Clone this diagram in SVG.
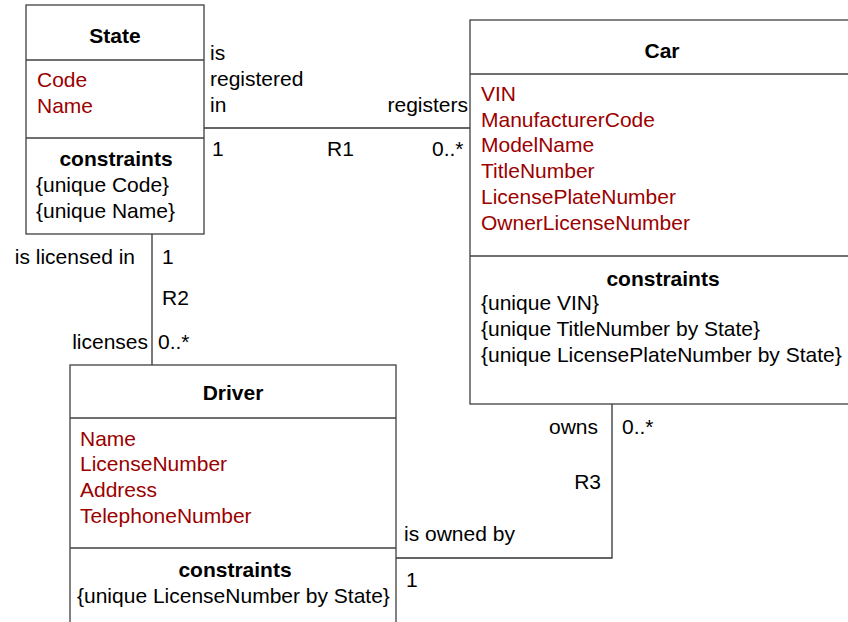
<svg xmlns="http://www.w3.org/2000/svg" width="848" height="622" viewBox="0 0 848 622">
<style>
text{font-family:"Liberation Sans",Arial,Helvetica,sans-serif;font-size:21px;fill:#000}
.t{font-weight:bold;text-anchor:middle}
.a{fill:#9b0000}
.r{text-anchor:end}
.box{fill:#fff;stroke:#404040;stroke-width:1.3}
.div{stroke:#404040;stroke-width:1.3}
.conn{fill:none;stroke:#333;stroke-width:1.3}
</style>
<rect width="848" height="622" fill="#fff"/>
<g id="connectors">
<path class="conn" d="M204,128 H470"/>
<path class="conn" d="M152,234 V365"/>
<path class="conn" d="M612,404 V558 H396"/>
</g>
<g id="labels">
<text x="210" y="60">is</text>
<text x="210" y="86">registered</text>
<text x="210" y="112">in</text>
<text class="r" x="468" y="112">registers</text>
<text x="212" y="156">1</text>
<text x="327" y="156">R1</text>
<text x="432" y="156">0..*</text>
<text class="r" x="135" y="264">is licensed in</text>
<text x="162" y="264">1</text>
<text x="162" y="305">R2</text>
<text class="r" x="148" y="349">licenses</text>
<text x="158" y="349">0..*</text>
<text class="r" x="598" y="434">owns</text>
<text x="622" y="434">0..*</text>
<text class="r" x="601" y="489">R3</text>
<text x="404" y="541">is owned by</text>
<text x="406" y="587">1</text>
</g>
<g id="State">
<rect class="box" x="26" y="5" width="178" height="229"/>
<line class="div" x1="26" y1="60" x2="204" y2="60"/>
<line class="div" x1="26" y1="138" x2="204" y2="138"/>
<text class="t" x="115" y="43">State</text>
<text class="a" x="37" y="87">Code</text>
<text class="a" x="37" y="113">Name</text>
<text class="t" x="116" y="166">constraints</text>
<text x="36" y="192">{unique Code}</text>
<text x="36" y="218">{unique Name}</text>
</g>
<g id="Car">
<rect class="box" x="470" y="20" width="384" height="384"/>
<line class="div" x1="470" y1="74" x2="854" y2="74"/>
<line class="div" x1="470" y1="256" x2="854" y2="256"/>
<text class="t" x="662" y="58">Car</text>
<text class="a" x="481" y="101">VIN</text>
<text class="a" x="481" y="127">ManufacturerCode</text>
<text class="a" x="481" y="152">ModelName</text>
<text class="a" x="481" y="178">TitleNumber</text>
<text class="a" x="481" y="204">LicensePlateNumber</text>
<text class="a" x="481" y="230">OwnerLicenseNumber</text>
<text class="t" x="663" y="286">constraints</text>
<text x="481" y="310">{unique VIN}</text>
<text x="481" y="336">{unique TitleNumber by State}</text>
<text x="481" y="362">{unique LicensePlateNumber by State}</text>
</g>
<g id="Driver">
<rect class="box" x="70" y="365" width="326" height="270"/>
<line class="div" x1="70" y1="418" x2="396" y2="418"/>
<line class="div" x1="70" y1="548" x2="396" y2="548"/>
<text class="t" x="233" y="400">Driver</text>
<text class="a" x="80" y="446">Name</text>
<text class="a" x="80" y="471">LicenseNumber</text>
<text class="a" x="80" y="497">Address</text>
<text class="a" x="80" y="523">TelephoneNumber</text>
<text class="t" x="235" y="577">constraints</text>
<text x="77" y="603">{unique LicenseNumber by State}</text>
</g>
</svg>
